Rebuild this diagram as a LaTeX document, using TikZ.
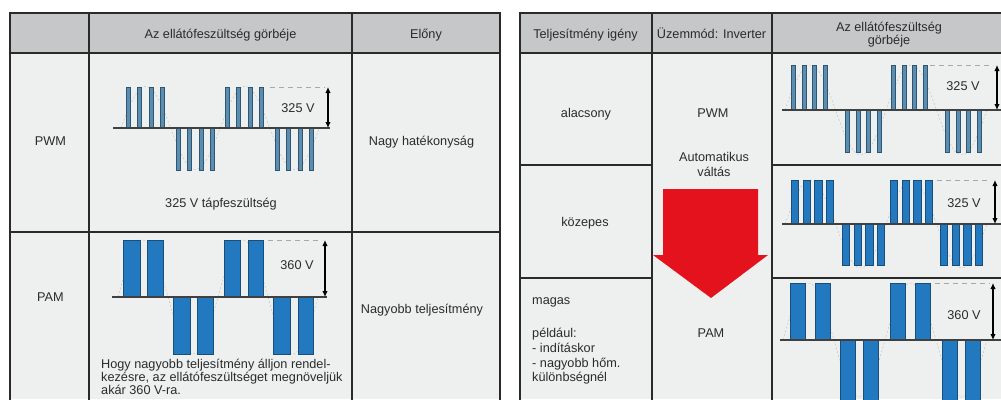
\documentclass[tikz,border=0pt]{standalone}
\usepackage{fontspec}
\setmainfont{Liberation Sans}
\usetikzlibrary{arrows.meta}
\definecolor{hdr}{HTML}{C6C7C9}
\definecolor{bodyc}{HTML}{EEF0EF}
\definecolor{gridc}{HTML}{2A2A2A}
\definecolor{pwmfill}{HTML}{5B8DB0}
\definecolor{pwmedge}{HTML}{2F5570}
\definecolor{pamfill}{HTML}{2279BF}
\definecolor{pamedge}{HTML}{1A4E78}
\definecolor{redarrow}{HTML}{E3121C}
\definecolor{ghostc}{HTML}{A8A8A8}
\definecolor{textc}{HTML}{2B2B2B}
\begin{document}
\begin{tikzpicture}[x=1pt,y=-1pt,
  txt/.style={font=\fontsize{12.7}{14.5}\selectfont, text=textc, inner sep=0pt, anchor=base},
  txtl/.style={txt, anchor=base west},
  outer/.style={draw=gridc, line width=2.4pt},
  hline/.style={draw=gridc, line width=2pt},
  inner/.style={draw=gridc, line width=1.4pt},
  volt/.style={draw=black, line width=1.1pt, {Latex[length=6pt,width=5.5pt]}-{Latex[length=6pt,width=5.5pt]}},
  dashref/.style={draw=ghostc, line width=1pt, dash pattern=on 5pt off 4pt},
  ghost/.style={draw=ghostc!70, line width=0.5pt, dash pattern=on 2pt off 2pt},
  baseln/.style={draw=black!75, line width=1.3pt},
  pwmbar/.style={fill=pwmfill, draw=pwmedge, line width=0.6pt},
  pambar/.style={fill=pamfill, draw=pamedge, line width=0.4pt},
]
\useasboundingbox (0,0) rectangle (1001,399);
\fill[white] (0,0) rectangle (1001,399);
% cell fills
\fill[hdr] (10,13) rectangle (500,53);
\fill[bodyc] (10,53) rectangle (500,399);
\fill[hdr] (520,13) rectangle (1001,53);
\fill[bodyc] (520,53) rectangle (1001,399);

% ---------- left PWM waveform ----------
\draw[ghost] plot[domain=121:319,samples=90] (\x,{128-41.5*sin((\x-121)/49.6*180)});
\foreach \s in {128,227} \foreach \k in {0,1,2,3}
  \draw[pwmbar] ({\s+11.5*\k-1.9},87) rectangle ({\s+11.5*\k+1.9},128);
\foreach \s in {178,277} \foreach \k in {0,1,2,3}
  \draw[pwmbar] ({\s+11.5*\k-1.9},128) rectangle ({\s+11.5*\k+1.9},170);
\draw[baseln] (113,128) -- (330,128);
\draw[dashref] (270,87) -- (325,87);
\coordinate (la1) at (328,87); \coordinate (lb1) at (328,128);
\draw[volt] (la1) -- (lb1);

% ---------- left PAM waveform ----------
\draw[ghost] plot[domain=118:318,samples=90] (\x,{297-57*sin((\x-118)/50*180)});
\foreach \a/\b in {123/140,147/163,224/240,248/263}
  \draw[pambar] (\a,240) rectangle (\b,297);
\foreach \a/\b in {173/190,197/213,273/290,298/313}
  \draw[pambar] (\a,297) rectangle (\b,354);
\draw[baseln] (112,297) -- (327,297);
\draw[dashref] (268,240) -- (322,240);
\coordinate (la2) at (325,240); \coordinate (lb2) at (325,297);
\draw[volt] (la2) -- (lb2);

% ---------- right row 1 PWM ----------
\draw[ghost] plot[domain=785:987,samples=90] (\x,{110-45*sin((\x-785)/50.5*180)});
\foreach \s in {793,893} \foreach \k in {0,1,2,3}
  \draw[pwmbar] ({\s+10.8*\k-2},65) rectangle ({\s+10.8*\k+2},110);
\foreach \s in {847,947} \foreach \k in {0,1,2,3}
  \draw[pwmbar] ({\s+10.8*\k-2},110) rectangle ({\s+10.8*\k+2},152);
\draw[baseln] (782,110) -- (1001,110);
\draw[dashref] (930,65) -- (993,65);
\coordinate (ra1) at (997,65); \coordinate (rb1) at (997,110);
\draw[volt] (ra1) -- (rb1);

% ---------- right row 2 PWM (wide) ----------
\draw[ghost] plot[domain=785:987,samples=90] (\x,{224-44*sin((\x-785)/50.5*180)});
\foreach \s in {791,890} \foreach \k in {0,1,2,3}
  \draw[pambar] ({\s+11.7*\k},180) rectangle ({\s+11.7*\k+7.5},224);
\foreach \s in {842,940} \foreach \k in {0,1,2,3}
  \draw[pambar] ({\s+11.7*\k},224) rectangle ({\s+11.7*\k+7.5},265);
\draw[baseln] (782,224) -- (1001,224);
\draw[dashref] (937,180) -- (991,180);
\coordinate (ra2) at (995,180); \coordinate (rb2) at (995,224);
\draw[volt] (ra2) -- (rb2);

% ---------- right row 3 PAM ----------
\draw[ghost] plot[domain=783:987,samples=90] (\x,{340-57*sin((\x-783)/51*180)});
\foreach \a/\b in {790/805,815/830,890/905,915/930}
  \draw[pambar] (\a,283) rectangle (\b,340);
\foreach \a/\b in {840/855,863/878,942/957,965/980}
  \draw[pambar] (\a,340) rectangle (\b,402);
\draw[baseln] (780,340) -- (1001,340);
\draw[dashref] (935,283) -- (990,283);
\coordinate (ra3) at (993,283); \coordinate (rb3) at (993,340);
\draw[volt] (ra3) -- (rb3);

% ---------- grid lines ----------
\draw[outer] (10,402) -- (10,13) -- (500,13) -- (500,402);
\draw[hline] (10,53) -- (500,53);
\draw[inner] (89,13) -- (89,402);
\draw[inner] (352,13) -- (352,402);
\draw[inner] (10,232) -- (500,232);

\draw[outer] (520,402) -- (520,13) -- (1003,13);
\draw[hline] (520,53) -- (1003,53);
\draw[inner] (652,13) -- (652,402);
\draw[inner] (772,13) -- (772,402);
\draw[inner] (520,165) -- (652,165);
\draw[inner] (772,165) -- (1003,165);
\draw[inner] (520,278) -- (652,278);
\draw[inner] (772,278) -- (1003,278);

% ---------- red arrow ----------
\fill[redarrow] (663,189) -- (758,189) -- (758,255) -- (768,255) -- (711,298)
  -- (653,255) -- (663,255) -- cycle;

% ---------- texts left ----------
\node[txt] (lh1) at (220.5,38) {Az ellátófeszültség görbéje};
\node[txt] (lh2) at (426,38) {Előny};
\node[txt] (lpwm) at (50.5,145) {PWM};
\node[txt] (lpwmadv) at (421.5,145) {Nagy hatékonyság};
\node[txt] (lv1) at (298,112) {325 V};
\node[txt] (lcap) at (221,207) {325 V tápfeszültség};
\node[txt] (lpam) at (50.5,301) {PAM};
\node[txt] (lpamadv) at (422,313) {Nagyobb teljesítmény};
\node[txt] (lv2) at (297,269) {360 V};
\node[txtl] (ln1) at (101,368) {Hogy nagyobb teljesítmény álljon rendel-};
\node[txtl] (ln2) at (101,381) {kezésre, az ellátófeszültséget megnöveljük};
\node[txtl] (ln3) at (101,394) {akár 360 V-ra.};

% ---------- texts right ----------
\node[txt] (rh1) at (585.5,38) {Teljesítmény igény};
\node[txt] (rh2) at (711.5,38) {Üzemmód: Inverter};
\node[txt] (rh3a) at (889,31) {Az ellátófeszültség};
\node[txt] (rh3b) at (889,44.5) {görbéje};
\node[txt] (ralac) at (586,117) {alacsony};
\node[txt] (rpwm) at (713,117) {PWM};
\node[txt] (rauto1) at (714,161.5) {Automatikus};
\node[txt] (rauto2) at (714,176) {váltás};
\node[txt] (rv1) at (963,90.5) {325 V};
\node[txt] (rkoz) at (585,226.5) {közepes};
\node[txt] (rv2) at (964,207) {325 V};
\node[txtl] (rmag) at (532,304) {magas};
\node[txtl] (rpl) at (532,337.5) {például:};
\node[txtl] (rind) at (532,352.5) {- indításkor};
\node[txtl] (rnagy) at (532,367) {- nagyobb hőm.};
\node[txtl] (rkul) at (532,381.5) {különbségnél};
\node[txt] (rpam) at (711,337) {PAM};
\node[txt] (rv3) at (964,319) {360 V};
\end{tikzpicture}
\end{document}
